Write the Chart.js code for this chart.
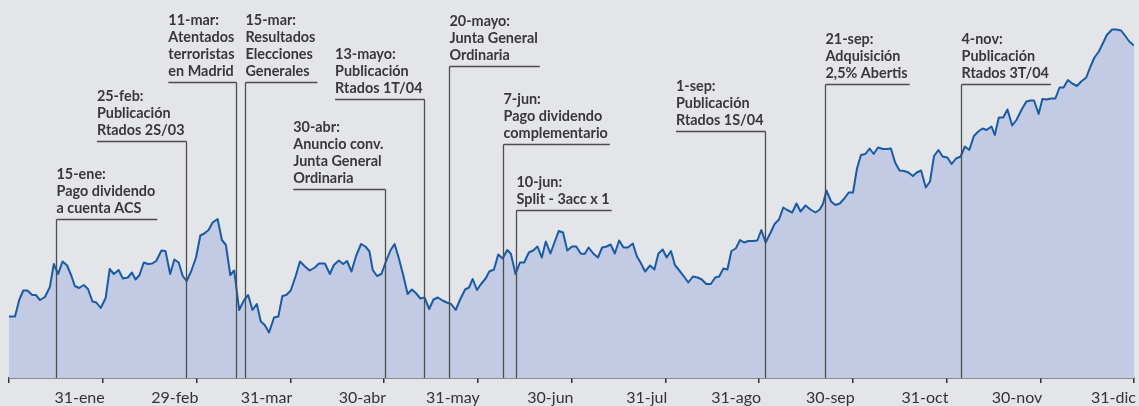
<!DOCTYPE html>
<html>
<head>
<meta charset="utf-8">
<script src="https://cdn.jsdelivr.net/npm/chart.js@4.4.1/dist/chart.umd.min.js"></script>
<style>
    html, body { margin: 0; padding: 0; background: #e4e5e8; }
    #wrap { width: 1139px; height: 406px; position: relative; }
</style>
</head>
<body>
<div id="wrap"><canvas id="acs-chart"></canvas></div>
<script>
// position of each session, in months from 1-ene (month ends at 1, 2, ... 12)
var monthPos = [
    0.000, 0.064, 0.109, 0.152, 0.195, 0.248, 0.287, 0.330, 0.383, 0.436,
    0.478, 0.524, 0.571, 0.620, 0.666, 0.702, 0.747, 0.797, 0.843, 0.890,
    0.932, 0.978, 1.031, 1.074, 1.119, 1.169, 1.215, 1.268, 1.311, 1.350,
    1.392, 1.438, 1.481, 1.527, 1.570, 1.626, 1.669, 1.719, 1.764, 1.810,
    1.853, 1.895, 1.942, 1.995, 2.041, 2.083, 2.129, 2.172, 2.225, 2.271,
    2.314, 2.360, 2.402, 2.455, 2.508, 2.551, 2.597, 2.643, 2.686, 2.728,
    2.774, 2.827, 2.873, 2.916, 2.958, 3.005, 3.058, 3.104, 3.157, 3.207,
    3.263, 3.306, 3.369, 3.423, 3.465, 3.518, 3.564, 3.606, 3.653, 3.702,
    3.755, 3.802, 3.845,
    3.880, 3.925, 3.972, 4.021, 4.068, 4.113, 4.156, 4.202, 4.252, 4.297,
    4.344, 4.387, 4.432, 4.482, 4.528, 4.574, 4.624, 4.669, 4.716, 4.765,
    4.812, 4.865, 4.907, 4.946, 4.992, 5.035, 5.084, 5.123, 5.173, 5.219,
    5.265, 5.315, 5.354, 5.403, 5.450, 5.495, 5.545, 5.591, 5.637, 5.683,
    5.726, 5.775, 5.822, 5.864, 5.910, 5.955, 6.005, 6.051, 6.098, 6.140,
    6.183, 6.232, 6.282, 6.327, 6.374, 6.417, 6.462, 6.508, 6.555, 6.601,
    6.654, 6.696, 6.742, 6.785, 6.838, 6.884, 6.927, 6.973, 7.015, 7.061,
    7.103, 7.150, 7.196, 7.246, 7.295, 7.345, 7.390, 7.437, 7.486, 7.533,
    7.575, 7.621, 7.663, 7.706, 7.752, 7.798, 7.841, 7.887, 7.935, 7.982,
    8.025, 8.071, 8.124, 8.166, 8.213, 8.259, 8.301, 8.354, 8.400, 8.443,
    8.496, 8.549, 8.602, 8.649, 8.684, 8.719, 8.769, 8.815, 8.861, 8.910,
    8.957, 9.003, 9.045, 9.088, 9.134, 9.180, 9.223, 9.269, 9.322, 9.364,
    9.407, 9.452, 9.499, 9.548, 9.595, 9.641, 9.683, 9.729, 9.779, 9.824,
    9.867, 9.914, 9.959, 10.009, 10.055, 10.101, 10.151, 10.196, 10.243, 10.292,
    10.339, 10.385, 10.427, 10.480, 10.515, 10.558, 10.605, 10.650, 10.700, 10.746,
    10.799, 10.852, 10.895, 10.934, 10.983, 11.023, 11.065, 11.118, 11.161, 11.206,
    11.249, 11.295, 11.341, 11.391, 11.437, 11.490, 11.536, 11.578, 11.625, 11.667,
    11.710, 11.766, 11.809, 11.862, 11.907, 11.950, 12.000
];

var price = [
    11.23, 11.23, 11.56, 11.75, 11.75, 11.66, 11.66, 11.56, 11.62, 11.82,
    12.28, 12.08, 12.33, 12.25, 12.04, 11.84, 11.80, 11.86, 11.78, 11.53,
    11.51, 11.40, 11.60, 12.18, 12.08, 12.16, 11.99, 12.01, 12.11, 11.97,
    12.06, 12.31, 12.28, 12.29, 12.34, 12.55, 12.54, 12.08, 12.37, 12.31,
    12.04, 11.94, 12.13, 12.41, 12.85, 12.89, 12.96, 13.11, 13.18, 12.76,
    12.66, 12.06, 12.15, 11.36, 11.56, 11.66, 11.36, 11.48, 11.13, 11.06,
    10.91, 11.21, 11.23, 11.64, 11.66, 11.75, 12.04, 12.33, 12.23, 12.15,
    12.21, 12.29, 12.29, 12.08, 12.26, 12.35, 12.28, 12.34, 12.13, 12.44,
    12.68, 12.63, 12.53,
    12.16, 12.04, 12.08, 12.33, 12.55, 12.68, 12.41, 12.08, 11.68, 11.77,
    11.69, 11.59, 11.61, 11.38, 11.57, 11.61, 11.55, 11.51, 11.48, 11.36,
    11.57, 11.77, 11.81, 11.98, 11.76, 11.88, 11.99, 12.13, 12.17, 12.47,
    12.39, 12.56, 12.48, 12.08, 12.31, 12.31, 12.51, 12.55, 12.63, 12.41,
    12.73, 12.49, 12.73, 12.94, 12.91, 12.55, 12.63, 12.63, 12.49, 12.48,
    12.61, 12.49, 12.41, 12.61, 12.63, 12.67, 12.49, 12.75, 12.61, 12.61,
    12.69, 12.44, 12.29, 12.13, 12.25, 12.17, 12.49, 12.57, 12.41, 12.54,
    12.26, 12.15, 12.04, 11.91, 12.03, 12.01, 11.97, 11.88, 11.88, 12.01,
    12.03, 12.19, 12.17, 12.54, 12.59, 12.76, 12.71, 12.74, 12.74, 12.75,
    12.96, 12.71, 12.91, 13.08, 13.17, 13.41, 13.36, 13.31, 13.49, 13.33,
    13.45, 13.37, 13.31, 13.37, 13.49, 13.75, 13.53, 13.46, 13.49, 13.59,
    13.71, 13.71, 14.19, 14.46, 14.48, 14.59, 14.48, 14.61, 14.58, 14.58,
    14.59, 14.31, 14.15, 14.14, 14.11, 14.04, 14.11, 14.15, 13.81, 13.93,
    14.44, 14.56, 14.43, 14.41, 14.28, 14.39, 14.43, 14.63, 14.56, 14.84,
    14.93, 14.99, 14.96, 15.03, 14.86, 15.21, 15.21, 15.37, 15.05, 15.16,
    15.36, 15.53, 15.55, 15.55, 15.28, 15.58, 15.57, 15.59, 15.59, 15.81,
    15.81, 15.96, 15.89, 15.84, 15.93, 16.01, 16.23, 16.41, 16.53, 16.69,
    16.86, 16.97, 16.97, 16.95, 16.84, 16.73, 16.65
];

var monthLabels = ['31-ene', '29-feb', '31-mar', '30-abr', '31-may', '30-jun',
                   '31-jul', '31-ago', '30-sep', '31-oct', '30-nov', '31-dic'];

// events
var eventPos = [0.50, 1.885, 2.423, 2.519, 4.015, 4.422, 4.691, 5.265, 5.403, 8.062, 8.702, 10.151];
var eventText = [
    ['15-ene:', 'Pago dividendo', 'a cuenta ACS'],
    ['25-feb:', 'Publicación', 'Rtados 2S/03'],
    ['11-mar:', 'Atentados', 'terroristas', 'en Madrid'],
    ['15-mar:', 'Resultados', 'Elecciones', 'Generales'],
    ['30-abr:', 'Anuncio conv.', 'Junta General', 'Ordinaria'],
    ['13-mayo:', 'Publicación', 'Rtados 1T/04'],
    ['20-mayo:', 'Junta General', 'Ordinaria'],
    ['7-jun:', 'Pago dividendo', 'complementario'],
    ['10-jun:', 'Split - 3acc x 1'],
    ['1-sep:', 'Publicación', 'Rtados 1S/04'],
    ['21-sep:', 'Adquisición', '2,5% Abertis'],
    ['4-nov:', 'Publicación', 'Rtados 3T/04']
];

// where each note sits: y of its rule and on which side the drop line is
var noteRuleY = [219, 141, 82, 82, 189, 99, 66, 144, 210, 131, 84, 84];
var noteSide = ['L', 'R', 'R', 'L', 'R', 'R', 'L', 'L', 'L', 'R', 'L', 'L'];

var NOTE_SQUEEZE = 0.96;  // the note font is a narrow one

var notesPlugin = {
    id: 'notes',
    afterDatasetsDraw: function (chart) {
        var ctx = chart.ctx,
            xs = chart.scales.x,
            bottom = chart.chartArea.bottom;

        ctx.save();
        ctx.font = 'bold 15px Lato';
        ctx.textBaseline = 'alphabetic';
        for (var i = 0; i < eventPos.length; i++) {
            var lines = eventText[i], w = 0;
            for (var j = 0; j < lines.length; j++) {
                w = Math.max(w, ctx.measureText(lines[j]).width * NOTE_SQUEEZE);
            }
            var px = Math.round(xs.getPixelForValue(eventPos[i])) + 0.5,
                ry = noteRuleY[i] + 0.5,
                left = noteSide[i] === 'R' ? px - w - 2 : px,
                right = noteSide[i] === 'R' ? px : px + w + 2;

            ctx.strokeStyle = '#4d4d4d';
            ctx.lineWidth = 1.3;
            ctx.beginPath();
            ctx.moveTo(left, ry);
            ctx.lineTo(right, ry);
            ctx.moveTo(px, ry);
            ctx.lineTo(px, bottom);
            ctx.stroke();

            ctx.fillStyle = '#383838';
            for (var j = 0; j < lines.length; j++) {
                ctx.save();
                ctx.translate(left, noteRuleY[i] - 6 - (lines.length - 1 - j) * 17);
                ctx.scale(NOTE_SQUEEZE, 1);
                ctx.fillText(lines[j], 0, 0);
                ctx.restore();
            }
        }
        ctx.restore();
    }
};

window.onload = function () {
    var points = [];
    for (var i = 0; i < monthPos.length; i++) {
        points.push({x: monthPos[i], y: price[i]});
    }

    var acsChart = new Chart(document.getElementById('acs-chart'), {
        type: 'line',
        data: {
            datasets: [
                {
                    label: 'ACS',
                    data: points,
                    borderColor: '#1a5ba6',
                    borderWidth: 2,
                    borderJoinStyle: 'round',
                    backgroundColor: '#c3cbe4',
                    fill: 'start',
                    pointRadius: 0,
                    tension: 0
                }
            ]
        },
        options: {
            responsive: true,
            maintainAspectRatio: false,
            animation: false,
            layout: {padding: {left: 9, right: 1, top: 0, bottom: 0}},
            plugins: {legend: {display: false}, tooltip: {enabled: false}},
            scales: {
                x: {
                    type: 'linear',
                    min: 0,
                    max: 12,
                    afterFit: function (scale) { scale.height = 28; },
                    ticks: {
                        stepSize: 1,
                        autoSkip: false,
                        maxRotation: 0,
                        align: 'end',
                        labelOffset: 2,
                        padding: 5,
                        color: '#333',
                        font: {family: 'Lato', size: 16},
                        callback: function (v) { return v > 0 ? monthLabels[v - 1] : ''; }
                    },
                    grid: {drawOnChartArea: false, drawTicks: true, tickLength: 5, color: '#333', lineWidth: 1.5},
                    border: {display: true, color: '#333', width: 1.5}
                },
                y: {display: false, min: 10, max: 17.56}
            }
        },
        plugins: [notesPlugin]
    });
};
</script>
</body>
</html>
